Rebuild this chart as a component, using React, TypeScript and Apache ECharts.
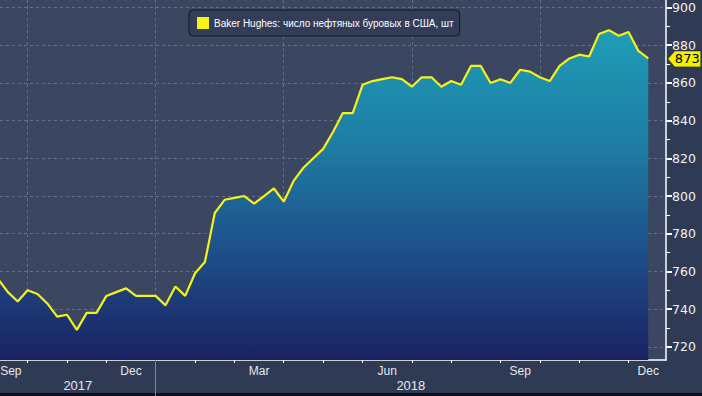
import React, { useEffect, useRef } from 'react';
import * as echarts from 'echarts';

// Weekly observation dates (Fridays) and Baker Hughes US oil rig counts
const weekDates = [
  '2017-09-08', '2017-09-15', '2017-09-22', '2017-09-29', '2017-10-06', '2017-10-13', '2017-10-20', '2017-10-27',
  '2017-11-03', '2017-11-10', '2017-11-17', '2017-11-22', '2017-12-01', '2017-12-08', '2017-12-15', '2017-12-22',
  '2017-12-29', '2018-01-05', '2018-01-12', '2018-01-19', '2018-01-26', '2018-02-02', '2018-02-09', '2018-02-16',
  '2018-02-23', '2018-03-02', '2018-03-09', '2018-03-16', '2018-03-23', '2018-03-29', '2018-04-06', '2018-04-13',
  '2018-04-20', '2018-04-27', '2018-05-04', '2018-05-11', '2018-05-18', '2018-05-25', '2018-06-01', '2018-06-08',
  '2018-06-15', '2018-06-22', '2018-06-29', '2018-07-06', '2018-07-13', '2018-07-20', '2018-07-27', '2018-08-03',
  '2018-08-10', '2018-08-17', '2018-08-24', '2018-08-31', '2018-09-07', '2018-09-14', '2018-09-21', '2018-09-28',
  '2018-10-05', '2018-10-12', '2018-10-19', '2018-10-26', '2018-11-02', '2018-11-09', '2018-11-16', '2018-11-21',
  '2018-11-30', '2018-12-07', '2018-12-14',
];
const rigCounts = [
  756, 749, 744, 750, 748, 743, 736, 737,
  729, 738, 738, 747, 749, 751, 747, 747,
  747, 742, 752, 747, 759, 765, 791, 798,
  799, 800, 796, 800, 804, 797, 808, 815,
  820, 825, 834, 844, 844, 859, 861, 862,
  863, 862, 858, 863, 863, 858, 861, 859,
  869, 869, 860, 862, 860, 867, 866, 863,
  861, 869, 873, 875, 874, 886, 888, 885,
  887, 877, 873,
];

// Axis tick / label positions, in week index units
const xRange = [0.2, 67.8];
const monthTickIdx = [3, 7, 11, 16, 20, 24, 29, 33, 37, 42, 46, 51, 55, 59, 64];
const quarterIdx = [3, 16, 29, 42, 55];
const monthLabels = ['Sep', 'Dec', 'Mar', 'Jun', 'Sep', 'Dec'];
const monthLabelPos = [1.3, 13.5, 26.5, 39.5, 53, 66];
const yearLabels = ['2017', '2018'];
const yearLabelPos = [8.1, 41.9];
const yearBoundaryIdx = [16];
const yRange = [713, 904];
const yMajorTicks = [720, 740, 760, 780, 800, 820, 840, 860, 880, 900];
const yMinorTicks = [730, 750, 770, 790, 810, 830, 850, 870, 890];

const seriesName = 'Baker Hughes: число нефтяных буровых в США, шт';

const nearestLabel = (labels: string[], pos: number[], v: number) => {
  let best = 0;
  for (let i = 1; i < pos.length; i++) {
    if (Math.abs(pos[i] - v) < Math.abs(pos[best] - v)) best = i;
  }
  return labels[best];
};

const labelFont = "'Liberation Sans', Arial, sans-serif";
const axisFont = "'DejaVu Sans', Verdana, sans-serif";

export default function App() {
  const ref = useRef<HTMLDivElement>(null);

  useEffect(() => {
    document.body.style.margin = '0';
    if (!ref.current) return;
    const chart = echarts.init(ref.current, undefined, { renderer: 'svg' });
    const data = rigCounts.map((v, i) => [i, v]);
    const lastIdx = rigCounts.length - 1;

    const baseX = {
      type: 'value',
      min: xRange[0],
      max: xRange[1],
      position: 'bottom',
    };

    chart.setOption({
      animation: false,
      backgroundColor: '#2f3a55',
      grid: {
        left: 0,
        right: 36,
        top: 0,
        bottom: 36,
        show: true,
        backgroundColor: '#3b4661',
        borderWidth: 0,
        containLabel: false,
        outerBoundsMode: 'none',
      },
      legend: {
        data: [seriesName],
        left: 189,
        top: 10,
        icon: 'rect',
        itemWidth: 12,
        itemHeight: 12,
        itemGap: 4,
        backgroundColor: '#333d57',
        borderColor: '#12161f',
        borderWidth: 1,
        borderRadius: 4,
        padding: [7, 6, 7, 8],
        textStyle: { color: '#ffffff', fontSize: 10, fontFamily: labelFont },
      },
      xAxis: [
        {
          ...baseX,
          axisLine: { show: true, lineStyle: { color: '#ffffff', width: 1.5 } },
          axisTick: { show: true, customValues: monthTickIdx, length: 3, lineStyle: { color: '#ffffff' } },
          axisLabel: {
            show: true,
            customValues: monthLabelPos,
            formatter: (v: number) => nearestLabel(monthLabels, monthLabelPos, v),
            color: '#e8e8e8',
            fontSize: 12,
            fontFamily: labelFont,
            margin: 5,
          },
          splitLine: { show: false },
        },
        {
          ...baseX,
          axisLine: { show: false },
          axisTick: { show: true, customValues: yearBoundaryIdx, length: 36, lineStyle: { color: '#7c869c', width: 1 } },
          axisLabel: {
            show: true,
            customValues: yearLabelPos,
            formatter: (v: number) => nearestLabel(yearLabels, yearLabelPos, v),
            color: '#e8e8e8',
            fontSize: 13,
            fontFamily: labelFont,
            margin: 19,
          },
          splitLine: { show: false },
        },
        {
          ...baseX,
          axisLine: { show: false },
          axisTick: { show: false, customValues: quarterIdx },
          axisLabel: { show: false },
          splitLine: { show: true, lineStyle: { color: '#63718e', type: [3, 3], width: 1 } },
        },
      ],
      yAxis: [
        {
          type: 'value',
          position: 'right',
          min: yRange[0],
          max: yRange[1],
          axisLine: { show: true, lineStyle: { color: '#ffffff', width: 1.5 } },
          axisTick: { show: true, customValues: yMajorTicks, length: 6, lineStyle: { color: '#ffffff', width: 2 } },
          axisLabel: {
            show: true,
            customValues: yMajorTicks,
            color: '#f0f0f0',
            fontSize: 12.5,
            lineHeight: 12,
            fontFamily: axisFont,
            margin: 6,
          },
          splitLine: { show: true, lineStyle: { color: '#63718e', type: [3, 3], width: 1 } },
        },
        {
          type: 'value',
          position: 'right',
          min: yRange[0],
          max: yRange[1],
          axisLine: { show: false },
          axisTick: { show: true, customValues: yMinorTicks, length: 4, lineStyle: { color: '#ffffff', width: 1 } },
          axisLabel: { show: false },
          splitLine: { show: false },
        },
      ],
      series: [
        {
          name: seriesName,
          type: 'line',
          xAxisIndex: 0,
          yAxisIndex: 0,
          data,
          color: '#f5f21a',
          symbol: 'none',
          showSymbol: false,
          lineStyle: { color: '#f5f21a', width: 2.2 },
          areaStyle: {
            origin: 'start',
            opacity: 1,
            color: new echarts.graphic.LinearGradient(0, 0, 0, 1, [
              { offset: 0, color: '#1f9db6' },
              { offset: 0.35, color: '#1e7ca4' },
              { offset: 0.7, color: '#1d4b86' },
              { offset: 1, color: '#1b2262' },
            ]),
          },
          markPoint: {
            symbol: 'path://M0,8L7,0L33,0L33,16L7,16Z',
            symbolSize: [33, 16],
            symbolOffset: [36, 0.5],
            itemStyle: { color: '#f5f000', borderColor: '#1a1a1a', borderWidth: 0.5 },
            label: {
              show: true,
              position: 'inside',
              offset: [3, 0],
              color: '#000000',
              fontSize: 13,
              lineHeight: 12,
              fontFamily: axisFont,
              formatter: (p: any) => String(p.value),
            },
            data: [{ coord: [lastIdx, rigCounts[lastIdx]], value: rigCounts[lastIdx], name: weekDates[lastIdx] }],
          },
        },
      ],
      graphic: [
        { type: 'rect', left: 0, bottom: 0, shape: { width: 702, height: 3 }, style: { fill: '#0e1016' }, silent: true },
      ],
    });

    return () => chart.dispose();
  }, []);

  return <div ref={ref} style={{ width: 702, height: 396 }} />;
}
